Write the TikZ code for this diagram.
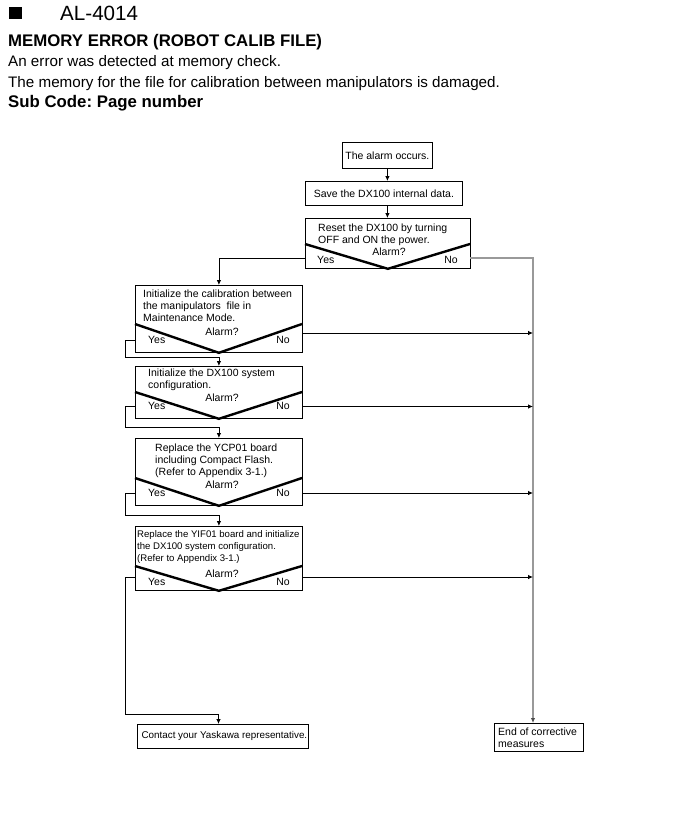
\documentclass[tikz,border=0pt]{standalone}
\usepackage{fontspec}
\setmainfont{Liberation Sans}
\usetikzlibrary{arrows.meta,calc}
\frenchspacing
\newcommand{\fcfont}{\fontsize{10.5bp}{12bp}\selectfont}
\newcommand{\fcsmall}{\fontsize{9.6bp}{12bp}\selectfont}
\tikzset{
  box/.style={draw, line width=0.8bp, inner sep=0, anchor=north west},
  txt/.style={inner sep=0, font=\fcfont, align=left, anchor=west},
  vee/.style={line width=2.4bp},
  ln/.style={line width=0.8bp},
  conn/.style={line width=0.8bp, -{Latex[length=5bp,width=4.5bp]}},
  trunk/.style={line width=1.3bp, draw=gray!80, -{Latex[length=5bp,width=4.5bp,color=black!70]}},
  head/.style={inner sep=0, anchor=base west},
}
\begin{document}
\begin{tikzpicture}[x=1bp,y=-1bp]
\useasboundingbox[fill=white] (0,0) rectangle (689,835);
% header
\node[fill=black, minimum width=13bp, minimum height=12bp, inner sep=0, anchor=north west] (sq) at (9,7) {};
\node[head, font=\fontsize{20.6bp}{24bp}\selectfont] (al) at (60,20) {AL-4014};
\node[head, font=\bfseries\fontsize{16.8bp}{18bp}\selectfont] (h1) at (8,46.5) {MEMORY ERROR (ROBOT CALIB FILE)};
\node[head, font=\fontsize{15.2bp}{18bp}\selectfont] (h2) at (8,66.5) {An error was detected at memory check.};
\node[head, font=\fontsize{15.2bp}{18bp}\selectfont] (h3) at (8,87) {The memory for the file for calibration between manipulators is damaged.};
\node[head, font=\bfseries\fontsize{16.8bp}{18bp}\selectfont] (h4) at (8,107) {Sub Code: Page number};

% boxes
\node[box, minimum width=90bp, minimum height=26bp] (b1) at (342,142) {};
\node[txt, anchor=center] (t1) at (b1.center) {The alarm occurs.};
\node[box, minimum width=157bp, minimum height=24bp] (b2) at (305,181) {};
\node[txt, anchor=center] (t2) at (b2.center) {Save the DX100 internal data.};

\node[box, minimum width=165bp, minimum height=50bp] (b3) at (305,218) {};
\node[txt] (t3) at (318,235) {Reset the DX100 by turning\\OFF and ON the power.};
\coordinate (b3l) at (305,244); \coordinate (b3r) at (470,244);
\draw[vee] (b3l) -- (b3.south) -- (b3r);
\node[txt, anchor=center] (a3) at (389,252) {Alarm?};
\node[txt] (ys3) at (317,260) {Yes};
\node[txt, anchor=east] (no3) at (458,260) {No};

\node[box, minimum width=167bp, minimum height=67bp] (b4) at (135,285) {};
\node[txt] (t4) at (143,306) {Initialize the calibration between\\the manipulators\ \ file in\\Maintenance Mode.};
\coordinate (b4l) at (135,324); \coordinate (b4r) at (302,324);
\draw[vee] (b4l) -- (b4.south) -- (b4r);
\node[txt, anchor=center] (a4) at (222,332) {Alarm?};
\node[txt] (ys4) at (148,340) {Yes};
\node[txt, anchor=east] (no4) at (290,340) {No};

\node[box, minimum width=167bp, minimum height=52bp] (b5) at (135,366) {};
\node[txt] (t5) at (148,380) {Initialize the DX100 system\\configuration.};
\coordinate (b5l) at (135,392); \coordinate (b5r) at (302,392);
\draw[vee] (b5l) -- (b5.south) -- (b5r);
\node[txt, anchor=center] (a5) at (222,398) {Alarm?};
\node[txt] (ys5) at (148,406) {Yes};
\node[txt, anchor=east] (no5) at (290,406) {No};

\node[box, minimum width=167bp, minimum height=67bp] (b6) at (135,438) {};
\node[txt] (t6) at (155,461) {Replace the YCP01 board\\including Compact Flash.\\(Refer to Appendix 3-1.)};
\coordinate (b6l) at (135,478); \coordinate (b6r) at (302,478);
\draw[vee] (b6l) -- (b6.south) -- (b6r);
\node[txt, anchor=center] (a6) at (222,485) {Alarm?};
\node[txt] (ys6) at (148,493) {Yes};
\node[txt, anchor=east] (no6) at (290,493) {No};

\node[box, minimum width=167bp, minimum height=64bp] (b7) at (135,526) {};
\node[txt, font=\fcsmall] (t7) at (137,547) {Replace the YIF01 board and initialize\\the DX100 system configuration.\\(Refer to Appendix 3-1.)};
\coordinate (b7l) at (135,566); \coordinate (b7r) at (302,566);
\draw[vee] (b7l) -- (b7.south) -- (b7r);
\node[txt, anchor=center] (a7) at (222,574) {Alarm?};
\node[txt] (ys7) at (148,582) {Yes};
\node[txt, anchor=east] (no7) at (290,582) {No};

\node[box, minimum width=171bp, minimum height=24bp] (b8) at (137,724) {};
\node[txt, anchor=center, font=\fontsize{9.85bp}{12bp}\selectfont] (t8) at ($(b8.center)+(1.5,0)$) {Contact your Yaskawa representative.};

\node[box, minimum width=89bp, minimum height=28bp] (b9) at (494,723) {};
\node[txt] (t9) at (498,737.5) {End of corrective\\measures};

% vertical flow
\draw[conn] (b1.south) -- (b1.south |- b2.north);
\draw[conn] (b1.south |- b2.south) -- (b1.south |- b3.north);

% yes branches
\coordinate (y3) at (305,258);
\draw[conn] (y3) -| (b4.north);
\coordinate (y4) at (135,340);
\draw[conn] (y4) -- ++(-10,0) |- ($(b5.north)+(0,-9)$) -- (b5.north);
\coordinate (y5) at (135,406.5);
\draw[conn] (y5) -- ++(-10,0) |- ($(b6.north)+(0,-11)$) -- (b6.north);
\coordinate (y6) at (135,493);
\draw[conn] (y6) -- ++(-10,0) |- ($(b7.north)+(0,-11)$) -- (b7.north);
\coordinate (y7) at (135,577);
\coordinate (c8) at (218.5,714);
\draw[conn] (y7) -- ++(-10,0) |- (c8) -- (c8 |- b8.north);

% no branches
\coordinate (n3) at (470,258);
\coordinate (tk) at (533,258);
\draw[trunk] (n3) -- (tk) -- (tk |- b9.north);
\coordinate (n4) at (302,333);
\draw[conn] (n4) -- (n4 -| tk);
\coordinate (n5) at (302,406.5);
\draw[conn] (n5) -- (n5 -| tk);
\coordinate (n6) at (302,493);
\draw[conn] (n6) -- (n6 -| tk);
\coordinate (n7) at (302,577);
\draw[conn] (n7) -- (n7 -| tk);
\end{tikzpicture}
\end{document}
